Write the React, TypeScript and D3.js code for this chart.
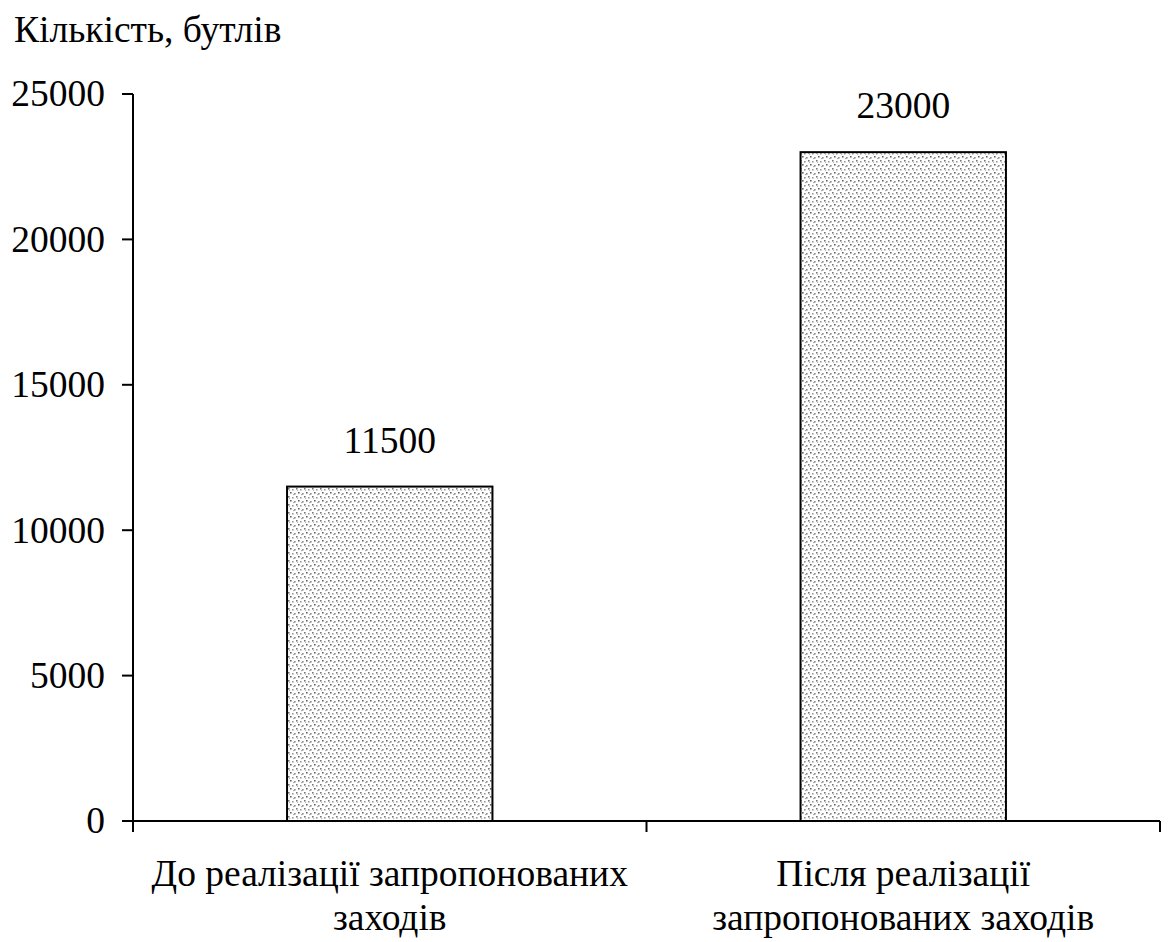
import React from "react";
import * as d3 from "d3";

const categories = ["До реалізації запропонованих заходів", "Після реалізації запропонованих заходів"];
const categoryLines = [
  ["До реалізації запропонованих", "заходів"],
  ["Після реалізації", "запропонованих заходів"],
];
const values = [11500, 23000];
const yTicks = [0, 5000, 10000, 15000, 20000, 25000];
const yTitle = "Кількість, бутлів";

const FONT = "'Liberation Serif', 'Times New Roman', serif";

export default function App() {
  const W = 1168, H = 942;
  const x0 = 133, x1 = 1160, yBase = 821, yTop = 94;
  const y = d3.scaleLinear().domain([0, 25000]).range([yBase, yTop]);
  const x = d3.scaleBand<string>().domain(categories).range([x0, x1]).paddingInner(0.6).paddingOuter(0.3);
  const step = x.step();
  const catBounds = [x0, x0 + step, x0 + 2 * step];
  const fs = 37.5;
  return (
    <svg width={W} height={H} style={{ position: "absolute", left: 0, top: 0, background: "#fff" }} fontFamily={FONT}>
      <defs>
        <pattern id="dots" width={8} height={8} patternUnits="userSpaceOnUse">
          <rect width={8} height={8} fill="#fff" />
          <rect x={0} y={0} width={1.6} height={1.6} fill="#777" />
          <rect x={4} y={1} width={1.6} height={1.6} fill="#999" />
          <rect x={2} y={4} width={1.6} height={1.6} fill="#666" />
          <rect x={6} y={5} width={1.6} height={1.6} fill="#888" />
          <rect x={1} y={2} width={1.2} height={1.2} fill="#bbb" />
          <rect x={5} y={6} width={1.2} height={1.2} fill="#aaa" />
        </pattern>
      </defs>
      <text x={14} y={42} fontSize={fs} fill="#000">{yTitle}</text>
      {yTicks.map((t) => (
        <g key={t}>
          <line x1={122} x2={x0} y1={y(t)} y2={y(t)} stroke="#000" strokeWidth={2} />
          <text x={105} y={y(t)} dy="0.33em" textAnchor="end" fontSize={fs} fill="#000">{t}</text>
        </g>
      ))}
      <line x1={x0} x2={x0} y1={yTop} y2={yBase} stroke="#000" strokeWidth={2} />
      <line x1={122} x2={x1} y1={yBase} y2={yBase} stroke="#000" strokeWidth={2} />
      {catBounds.map((cx, i) => (
        <line key={i} x1={cx} x2={cx} y1={yBase} y2={yBase + 11} stroke="#000" strokeWidth={2} />
      ))}
      {categories.map((c, i) => (
        <g key={c}>
          <rect x={x(c)!} y={y(values[i])} width={x.bandwidth()} height={yBase - y(values[i])} fill="url(#dots)" stroke="#000" strokeWidth={2} />
          <text x={x(c)! + x.bandwidth() / 2} y={y(values[i]) - 34} textAnchor="middle" fontSize={fs} fill="#000">{values[i]}</text>
          {categoryLines[i].map((ln, j) => (
            <text key={j} x={x(c)! + x.bandwidth() / 2} y={886 + j * 44} textAnchor="middle" fontSize={fs} fill="#000">{ln}</text>
          ))}
        </g>
      ))}
    </svg>
  );
}
